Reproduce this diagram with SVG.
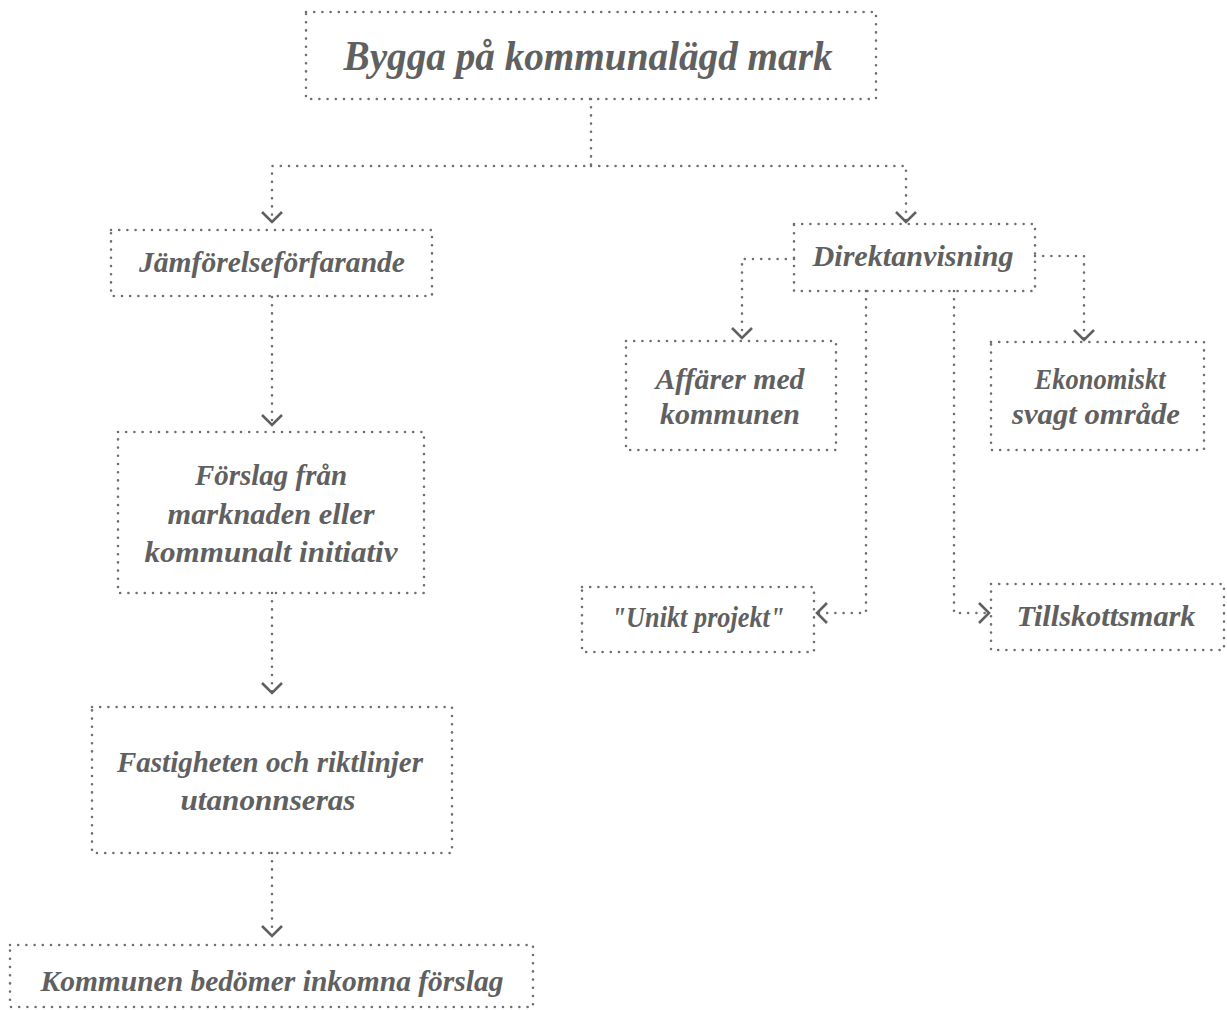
<svg xmlns="http://www.w3.org/2000/svg" width="1227" height="1010" viewBox="0 0 1227 1010">
<style>
.box{fill:none;stroke:#6f6f6f;stroke-width:2.6;stroke-dasharray:0 8.2;stroke-linecap:round}
.con{fill:none;stroke:#6f6f6f;stroke-width:2.6;stroke-dasharray:0 8.2;stroke-linecap:round}
.t{font-family:"Liberation Serif","DejaVu Serif",serif;font-weight:bold;font-style:italic;fill:#606060;text-anchor:middle}
.s{font-size:30px}
.h{font-size:43px}
</style>
<defs>
<marker id="chev" markerUnits="userSpaceOnUse" markerWidth="28" markerHeight="28" refX="0" refY="0" viewBox="-14 -14 28 28" orient="auto" overflow="visible">
<path d="M-10,-10 L0,0 L-10,10" fill="none" stroke="#606060" stroke-width="2.6"/>
</marker>
</defs>
<rect width="1227" height="1010" fill="#fff"/>
<g id="connectors">
<path class="con" d="M591,99 V166 H272 V222" marker-end="url(#chev)"/>
<path class="con" d="M591,166 H906 V222" marker-end="url(#chev)"/>
<path class="con" d="M272,297 V425" marker-end="url(#chev)"/>
<path class="con" d="M272,593 V693" marker-end="url(#chev)"/>
<path class="con" d="M272,853 V936" marker-end="url(#chev)"/>
<path class="con" d="M794,259 H742 V338" marker-end="url(#chev)"/>
<path class="con" d="M1035,256 H1084 V340" marker-end="url(#chev)"/>
<path class="con" d="M866,291 V613 H817" marker-end="url(#chev)"/>
<path class="con" d="M954,291 V613 H989" marker-end="url(#chev)"/>
</g>
<g id="n-root">
<rect class="box" x="306" y="12" width="570" height="87"/>
<text class="t h" x="588" y="70" textLength="489" lengthAdjust="spacingAndGlyphs">Bygga på kommunalägd mark</text>
</g>
<g id="n-jamforelse">
<rect class="box" x="111" y="230" width="321" height="66"/>
<text class="t s" x="272" y="272" textLength="266" lengthAdjust="spacingAndGlyphs">Jämförelseförfarande</text>
</g>
<g id="n-direkt">
<rect class="box" x="794" y="224" width="241" height="67"/>
<text class="t s" x="913" y="266" textLength="201" lengthAdjust="spacingAndGlyphs">Direktanvisning</text>
</g>
<g id="n-affarer">
<rect class="box" x="626" y="341" width="210" height="109"/>
<text class="t s" x="730" y="389" textLength="149" lengthAdjust="spacingAndGlyphs">Affärer med</text>
<text class="t s" x="730" y="424" textLength="140" lengthAdjust="spacingAndGlyphs">kommunen</text>
</g>
<g id="n-ekonomiskt">
<rect class="box" x="991" y="342" width="213" height="108"/>
<text class="t s" x="1100" y="389" textLength="131" lengthAdjust="spacingAndGlyphs">Ekonomiskt</text>
<text class="t s" x="1096" y="424" textLength="168" lengthAdjust="spacingAndGlyphs">svagt område</text>
</g>
<g id="n-forslag">
<rect class="box" x="118" y="432" width="306" height="161"/>
<text class="t s" x="271" y="485" textLength="152" lengthAdjust="spacingAndGlyphs">Förslag från</text>
<text class="t s" x="271" y="524" textLength="207" lengthAdjust="spacingAndGlyphs">marknaden eller</text>
<text class="t s" x="271" y="562" textLength="253" lengthAdjust="spacingAndGlyphs">kommunalt initiativ</text>
</g>
<g id="n-fastigheten">
<rect class="box" x="92" y="707" width="360" height="146"/>
<text class="t s" x="270" y="772" textLength="306" lengthAdjust="spacingAndGlyphs">Fastigheten och riktlinjer</text>
<text class="t s" x="268" y="810" textLength="175" lengthAdjust="spacingAndGlyphs">utanonnseras</text>
</g>
<g id="n-kommunen">
<rect class="box" x="10" y="945" width="523" height="62"/>
<text class="t s" x="272" y="991" textLength="463" lengthAdjust="spacingAndGlyphs">Kommunen bedömer inkomna förslag</text>
</g>
<g id="n-unikt">
<rect class="box" x="582" y="587" width="232" height="65"/>
<text class="t s" x="698" y="627" textLength="173" lengthAdjust="spacingAndGlyphs">"Unikt projekt"</text>
</g>
<g id="n-tillskott">
<rect class="box" x="991" y="584" width="233" height="66"/>
<text class="t s" x="1106" y="626" textLength="179" lengthAdjust="spacingAndGlyphs">Tillskottsmark</text>
</g>
</svg>
